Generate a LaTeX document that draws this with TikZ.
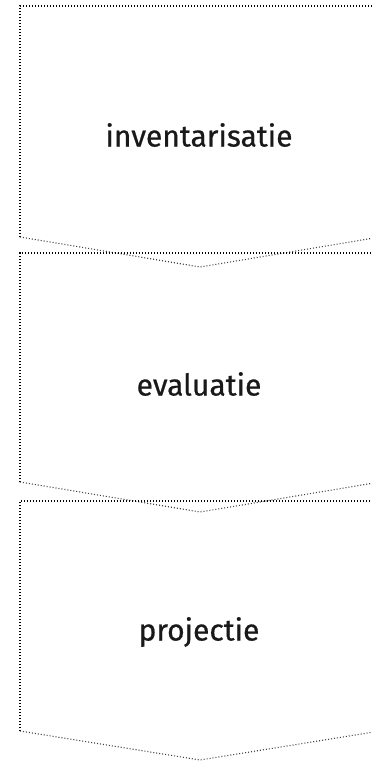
\documentclass[tikz,border=0pt]{standalone}
\usepackage{fontspec}
\setmainfont{Fira Sans}
\begin{document}
\begin{tikzpicture}[x=1pt,y=-1pt,
  edge/.style={line width=1.7pt, dash pattern=on 1.2pt off 1.8pt, black},
  chev/.style={line width=1.1pt, dash pattern=on 1pt off 2pt, black!75},
  lbl/.style={font=\fontsize{30}{35}\selectfont\addfontfeatures{FakeBold=0.6}, text=black!90}]
\useasboundingbox (0,0) rectangle (372,761);
\clip (0,0) rectangle (372,761);
% box 1
\coordinate (a1) at (20,6);
\coordinate (b1) at (20,237);
\coordinate (p1) at (200,267);
\coordinate (r1) at (380,237);
\draw[edge] (b1) -- (a1) -- (380,6);
\draw[chev] (b1) -- (p1) -- (r1);
\node[lbl] (t1) at (199,135) {inventarisatie};
% box 2
\coordinate (a2) at (20,253);
\coordinate (b2) at (20,482);
\coordinate (p2) at (200,512);
\coordinate (r2) at (380,482);
\draw[edge] (b2) -- (a2) -- (380,253);
\draw[chev] (b2) -- (p2) -- (r2);
\node[lbl] (t2) at (199,384) {evaluatie};
% box 3
\coordinate (a3) at (20,501);
\coordinate (b3) at (20,731);
\coordinate (p3) at (200,760);
\coordinate (r3) at (380,731);
\draw[edge] (b3) -- (a3) -- (380,501);
\draw[chev] (b3) -- (p3) -- (r3);
\node[lbl] (t3) at (199,632) {projectie};
\end{tikzpicture}
\end{document}
